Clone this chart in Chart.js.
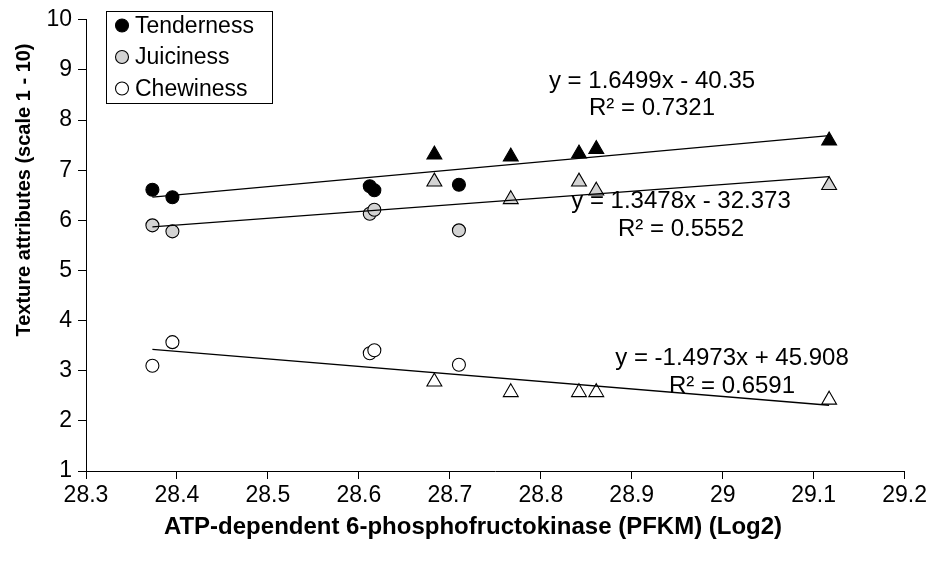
<!DOCTYPE html>
<html><head><meta charset="utf-8">
<script src="https://cdn.jsdelivr.net/npm/chart.js@4/dist/chart.umd.min.js"></script>
<style>html,body{margin:0;padding:0;background:#fff;}</style>
</head><body>
<canvas id="c" width="930" height="564" style="width:930px;height:564px;display:block"></canvas>
<script>
// ---- data ----
const pfkm       = [28.373, 28.395, 28.612, 28.617, 28.710, 28.683, 28.767, 28.842, 28.861, 29.117];
const tenderness = [6.61, 6.46, 6.68, 6.60, 6.71, 7.31, 7.27, 7.33, 7.42, 7.59];
const juiciness  = [5.90, 5.78, 6.13, 6.21, 5.80, 6.77, 6.42, 6.77, 6.59, 6.70];
const chewiness  = [3.10, 3.57, 3.35, 3.41, 3.12, 2.78, 2.57, 2.57, 2.57, 2.42];
const markerShapes = ['circle','circle','circle','circle','circle','triangle','triangle','triangle','triangle','triangle'];
const seriesNames = ['Tenderness', 'Juiciness', 'Chewiness'];
const slopes     = [1.6499, 1.3478, -1.4973];
const intercepts = [-40.35, -32.373, 45.908];
const eqLabels   = ['y = 1.6499x - 40.35', 'y = 1.3478x - 32.373', 'y = -1.4973x + 45.908'];
const r2Labels   = ['R² = 0.7321', 'R² = 0.5552', 'R² = 0.6591'];
const xTicks = [28.3, 28.4, 28.5, 28.6, 28.7, 28.8, 28.9, 29, 29.1, 29.2];
const yTicks = [1, 2, 3, 4, 5, 6, 7, 8, 9, 10];
const xTitle = 'ATP-dependent 6-phosphofructokinase (PFKM) (Log2)';
const yTitle = 'Texture attributes (scale 1 - 10)';

// ---- styles ----
const fills = ['#000000', '#d3d3d3', '#ffffff'];
const FONT = '"Liberation Sans", Arial, sans-serif';
const values = [tenderness, juiciness, chewiness];

const xMin = Math.min(...pfkm), xMax = Math.max(...pfkm);
const datasets = [];
values.forEach((vals, i) => {
  datasets.push({
    label: seriesNames[i] + ' trend',
    data: [xMin, xMax].map(x => ({x, y: slopes[i] * x + intercepts[i]})),
    showLine: true, borderColor: '#000', borderWidth: 1.3, pointRadius: 0,
    order: 0
  });
});
values.forEach((vals, i) => {
  datasets.push({
    label: seriesNames[i],
    data: pfkm.map((x, k) => ({x, y: vals[k]})),
    pointStyle: markerShapes,
    pointRadius: markerShapes.map(s => s === 'circle' ? 6.5 : 8.6),
    pointBackgroundColor: fills[i], pointBorderColor: '#000', pointBorderWidth: 1.1,
    showLine: false, order: 1
  });
});

const annot = {
  id: 'annot',
  afterDraw(chart) {
    const ctx = chart.ctx;
    ctx.save();
    ctx.fillStyle = '#000';
    // axis titles
    ctx.textAlign = 'center'; ctx.textBaseline = 'middle';
    ctx.font = 'bold 24px ' + FONT;
    ctx.fillText(xTitle, 473, 527);
    ctx.save();
    ctx.translate(24, 190); ctx.rotate(-Math.PI / 2);
    ctx.font = 'bold 20px ' + FONT;
    ctx.fillText(yTitle, 0, 0);
    ctx.restore();
    // trendline equations
    ctx.font = '24px ' + FONT;
    const eqPos = [[652, 81, 652, 108], [681, 201, 681, 229], [732, 358, 732, 386]];
    eqPos.forEach((p, i) => {
      ctx.fillText(eqLabels[i], p[0], p[1]);
      ctx.fillText(r2Labels[i], p[2], p[3]);
    });
    // legend box
    ctx.strokeStyle = '#000'; ctx.lineWidth = 1;
    ctx.fillStyle = '#fff';
    ctx.fillRect(106.5, 11.5, 166, 92);
    ctx.strokeRect(106.5, 11.5, 166, 92);
    ctx.font = '23px ' + FONT;
    ctx.textAlign = 'left';
    seriesNames.forEach((n, i) => {
      const y = 25.5 + i * 31.5;
      ctx.beginPath(); ctx.arc(122, y, 6.5, 0, Math.PI * 2);
      ctx.fillStyle = fills[i]; ctx.fill(); ctx.lineWidth = 1.1; ctx.stroke();
      ctx.fillStyle = '#000';
      ctx.fillText(n, 135, y + 1);
    });
    ctx.restore();
  }
};

new Chart(document.getElementById('c'), {
  type: 'scatter',
  data: {datasets},
  options: {
    responsive: false, animation: false, devicePixelRatio: 1,
    layout: {padding: {top: 17, right: 25, left: 0, bottom: 0}},
    plugins: {legend: {display: false}, tooltip: {enabled: false}},
    scales: {
      x: {
        type: 'linear', min: 28.3, max: 29.2,
        afterBuildTicks: s => { s.ticks = xTicks.map(v => ({value: v})); },
        afterFit: s => { s.height = 93; },
        ticks: {color: '#000', font: {family: FONT, size: 23}, padding: 3, maxRotation: 0,
                callback: v => String(Number(v.toFixed(1)))},
        grid: {drawOnChartArea: false, color: '#000', tickLength: 8, lineWidth: 1},
        border: {color: '#000', width: 1},
        title: {display: false}
      },
      y: {
        min: 1, max: 10,
        afterBuildTicks: s => { s.ticks = yTicks.map(v => ({value: v})); },
        afterFit: s => { s.width = 86; },
        ticks: {color: '#000', font: {family: FONT, size: 23}, padding: 6},
        grid: {drawOnChartArea: false, color: '#000', tickLength: 8, lineWidth: 1},
        border: {color: '#000', width: 1},
        title: {display: false}
      }
    }
  },
  plugins: [annot]
});
</script>
</body></html>
